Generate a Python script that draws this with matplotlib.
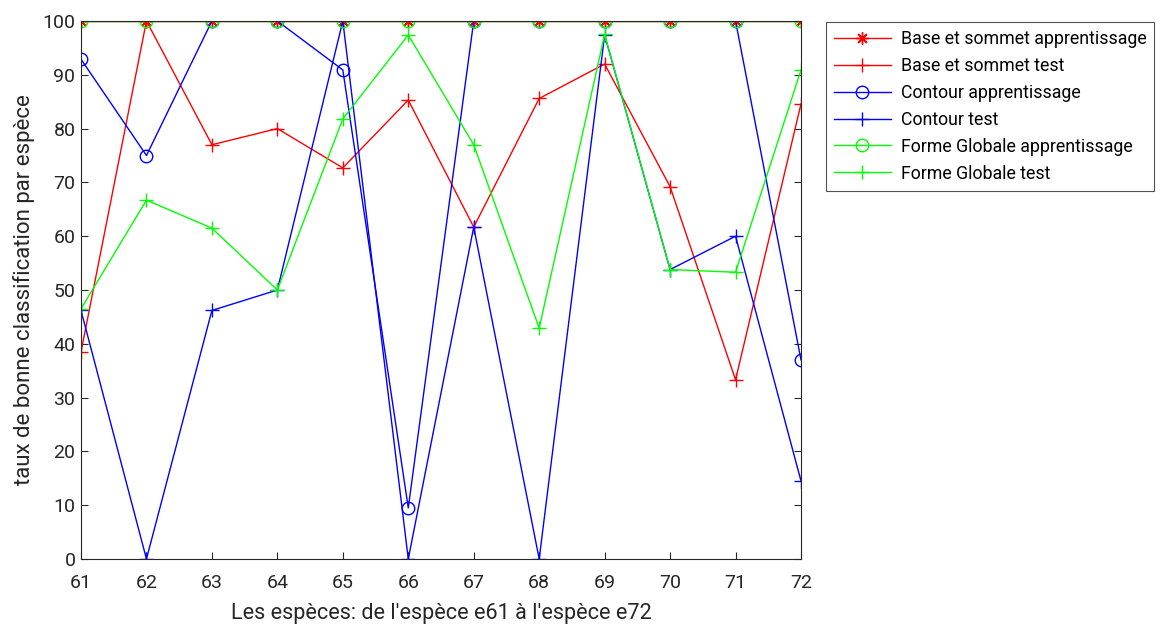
import matplotlib
matplotlib.use("Agg")
import matplotlib.pyplot as plt

plt.rcParams['font.family'] = ['Roboto', 'DejaVu Sans']

especes = [61, 62, 63, 64, 65, 66, 67, 68, 69, 70, 71, 72]
base_app = [100, 100, 100, 100, 100, 100, 100, 100, 100, 100, 100, 100]
base_test = [38.5, 100, 77, 80, 72.7, 85.3, 61.7, 85.6, 92, 69.2, 33.3, 84.6]
contour_app = [92.9, 75, 100, 100, 90.9, 9.5, 100, 100, 100, 100, 100, 37]
contour_test = [46.2, 0, 46.2, 50, 100, 0, 61.7, 0, 97.4, 53.8, 60, 14.5]
forme_app = [100, 100, 100, 100, 100, 100, 100, 100, 100, 100, 100, 100]
forme_test = [46.5, 66.7, 61.5, 50, 81.8, 97.4, 77, 42.9, 97.5, 53.8, 53.3, 90.9]

labels = ["Base et sommet apprentissage", "Base et sommet test",
          "Contour apprentissage", "Contour test",
          "Forme Globale apprentissage", "Forme Globale test"]

W, H = 1163, 627
fig = plt.figure(figsize=(W / 100, H / 100), dpi=100)
ax = fig.add_axes([81 / W, 1 - 559 / H, 720 / W, 538 / H])

lw = 1.0
ast = (8, 2, 0)
ax.plot(especes, base_app, color='#ff0000', marker=ast, lw=lw, ms=9, mew=1, label=labels[0])
ax.plot(especes, base_test, color='#ff0000', marker='+', lw=lw, ms=10.5, mew=1, label=labels[1])
ax.plot(especes, contour_app, color='#0000ff', marker='o', mfc='none', lw=lw, ms=9, mew=1, label=labels[2])
ax.plot(especes, contour_test, color='#0000ff', marker='+', lw=lw, ms=10.5, mew=1, label=labels[3])
ax.plot(especes, forme_app, color='#00ff00', marker='o', mfc='none', lw=lw, ms=9, mew=1, label=labels[4])
ax.plot(especes, forme_test, color='#00ff00', marker='+', lw=lw, ms=10.5, mew=1, label=labels[5])

ax.set_xlim(61, 72)
ax.set_ylim(0, 100)
ax.set_xticks(especes)
ax.set_yticks(range(0, 101, 10))
ax.tick_params(direction='in', length=5, top=True, right=True, labelsize=14,
               colors='#262626', width=0.8)
ax.tick_params(axis='x', pad=11)
ax.tick_params(axis='y', pad=4)
for s in ax.spines.values():
    s.set_color('#262626')
    s.set_linewidth(0.8)
ax.set_xlabel("Les espèces: de l'espèce e61 à l'espèce e72", fontsize=15.6, color='#262626', labelpad=8)
ax.set_ylabel("taux de bonne classification par espèce", fontsize=16, color='#262626', labelpad=5)

leg = ax.legend(loc='upper left', bbox_to_anchor=(1.0347, 0.998), borderaxespad=0,
                fontsize=12.8, frameon=True, fancybox=False, handlelength=3.2,
                labelspacing=0.5, edgecolor='#262626', borderpad=0.45, handletextpad=0.55)
leg.get_frame().set_linewidth(0.8)

fig.savefig("out.png", dpi=100)
